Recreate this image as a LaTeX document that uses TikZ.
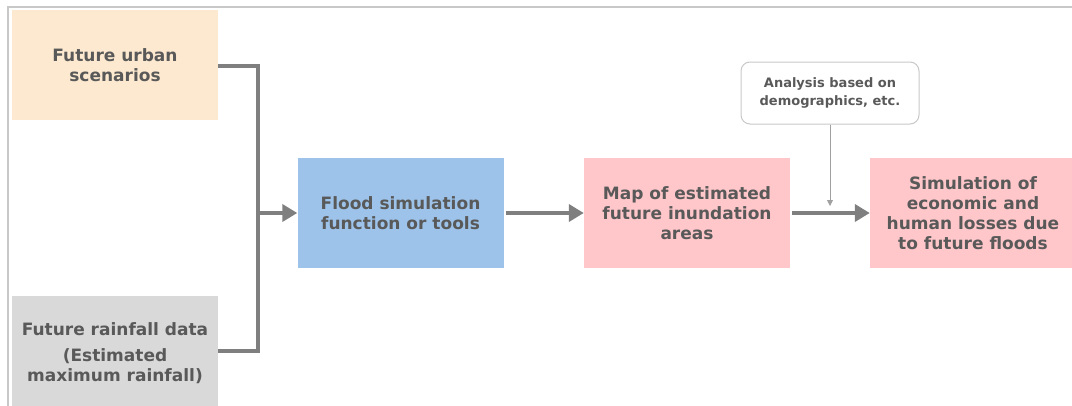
\documentclass[tikz,border=0pt]{standalone}
\usepackage{fontspec}
\setmainfont{DejaVu Sans}
\usetikzlibrary{arrows.meta}
\definecolor{txtgray}{HTML}{595959}
\definecolor{linegray}{HTML}{7F7F7F}
\definecolor{framegray}{HTML}{C8C8C8}
\definecolor{peach}{HTML}{FDE9CF}
\definecolor{lightgray}{HTML}{D9D9D9}
\definecolor{skyblue}{HTML}{9DC3EA}
\definecolor{pink}{HTML}{FFC7CA}
\tikzset{
  box/.style={minimum width=206pt, minimum height=110pt, inner sep=0pt,
    align=center, text=txtgray, font=\fontsize{17}{20}\selectfont\bfseries},
  conn/.style={draw=linegray, line width=4.5pt},
  flow/.style={conn, -{Triangle[length=15pt,width=17pt]}},
  note/.style={draw=framegray, line width=1pt, rounded corners=9pt,
    minimum width=178pt, minimum height=62pt, inner sep=0pt, align=center,
    text=txtgray, font=\fontsize{13}{18}\selectfont\bfseries},
  thin/.style={draw=framegray!80!black, line width=0.8pt, -{Triangle[length=6pt,width=6pt]}}
}
\begin{document}
\begin{tikzpicture}[x=1pt, y=-1pt]
\useasboundingbox (0,0) rectangle (1072,405);
\begin{scope}
\clip (0,0) rectangle (1072,405);
% outer frame
\draw[framegray, line width=1.5pt] (8,410) -- (8,7) -- (1080,7);
% input boxes
\node[box, fill=peach] (urban) at (115,65) {Future urban\\scenarios};
\node[box, fill=lightgray, minimum height=114pt] (rain) at (115,353)
  {Future rainfall data\\[6pt](Estimated\\maximum rainfall)};
% process boxes
\node[box, fill=skyblue] (flood) at (400.5,213) {Flood simulation\\function or tools};
\node[box, fill=pink] (map) at (687,213) {Map of estimated\\future inundation\\areas};
\node[box, fill=pink] (loss) at (973,213) {Simulation of\\economic and\\human losses due\\to future floods};
% analysis note
\node[note] (note) at (830,93) {Analysis based on\\demographics, etc.};
\coordinate (join) at (258,213);
\coordinate (notetip) at (830,206);
% connectors
\draw[conn] (urban.east |- 0,66) -| (join) |- (rain.east |- 0,351);
\draw[flow] (join) -- (flood.west);
\draw[flow] (flood.east) ++(2,0) -- (map.west);
\draw[flow] (map.east) ++(2,0) -- (loss.west);
\draw[thin] (note.south) -- (notetip);
\end{scope}
\end{tikzpicture}
\end{document}
